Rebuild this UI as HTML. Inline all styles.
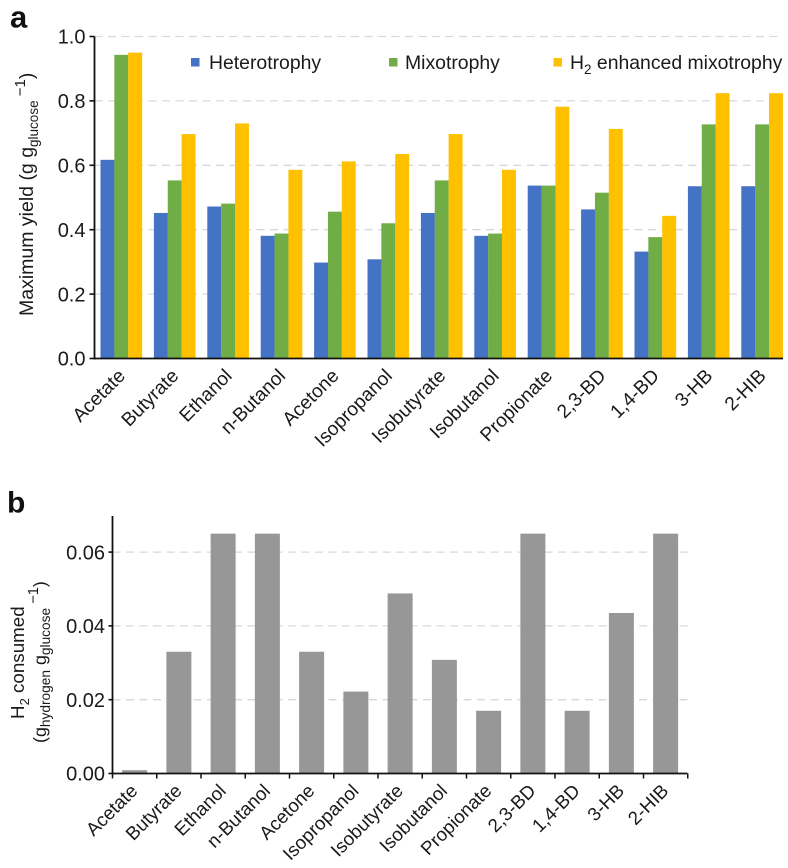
<!DOCTYPE html>
<html lang="en">
<head>
<meta charset="utf-8">
<title>Maximum yield and H2 consumed</title>
<style>
html,body{margin:0;padding:0;background:#fff;}
svg{display:block;font-family:"Liberation Sans",Arial,sans-serif;fill:#1a1a1a;}
</style>
</head>
<body>
<svg id="chart" width="788" height="868" viewBox="0 0 788 868" xmlns="http://www.w3.org/2000/svg">
  <text x="10" y="27.5" font-size="31" font-weight="bold" fill="#111">a</text>
  <text x="7" y="512.5" font-size="30" font-weight="bold" fill="#111">b</text>

  <text transform="translate(33,316) rotate(-90)" font-size="19.5">Maximum yield (g g<tspan font-size="13.5" dy="5">glucose</tspan><tspan font-size="15" dy="-13"> −1</tspan><tspan dy="8">)</tspan></text>

  <text transform="translate(24,719) rotate(-90)" font-size="18.8">H<tspan font-size="13" dy="5">2</tspan><tspan dy="-5"> consumed</tspan></text>
  <text transform="translate(46,743) rotate(-90)" font-size="17.9">(g<tspan font-size="13.7" dy="4">hydrogen</tspan><tspan dy="-4"> g</tspan><tspan font-size="13.7" dy="4">glucose</tspan><tspan font-size="14.7" dy="-12"> −1</tspan><tspan dy="8">)</tspan></text>

  <g>
    <rect x="191" y="58" width="8.5" height="8.5" fill="#4472c4"/>
    <text x="209" y="69" font-size="19.4">Heterotrophy</text>
    <rect x="389" y="58" width="8.5" height="8.5" fill="#70ad47"/>
    <text x="405" y="69" font-size="19.4">Mixotrophy</text>
    <rect x="553.5" y="58" width="8.5" height="8.5" fill="#ffc000"/>
    <text x="570" y="69" font-size="19.4">H<tspan font-size="13.5" dy="5">2</tspan><tspan dy="-5"> enhanced mixotrophy</tspan></text>
  </g>
</svg>
<script>
const categories = ["Acetate","Butyrate","Ethanol","n-Butanol","Acetone","Isopropanol","Isobutyrate","Isobutanol","Propionate","2,3-BD","1,4-BD","3-HB","2-HIB"];
const heterotrophy = [0.617,0.452,0.472,0.381,0.298,0.308,0.452,0.381,0.537,0.463,0.332,0.535,0.535];
const mixotrophy = [0.943,0.553,0.481,0.388,0.456,0.420,0.553,0.388,0.537,0.515,0.377,0.727,0.727];
const h2Enhanced = [0.950,0.697,0.730,0.586,0.612,0.635,0.697,0.586,0.782,0.713,0.443,0.824,0.824];
const h2Consumed = [0.0009,0.0330,0.0650,0.0650,0.0330,0.0222,0.0488,0.0308,0.0170,0.0650,0.0170,0.0435,0.0650];
const yieldTicks = [0,0.2,0.4,0.6,0.8,1.0];
const h2Ticks = [0,0.02,0.04,0.06];

const NS = "http://www.w3.org/2000/svg";
const svg = document.getElementById("chart");
function make(tag, attrs, parent) {
  const el = document.createElementNS(NS, tag);
  for (const k in attrs) el.setAttribute(k, attrs[k]);
  (parent || svg).appendChild(el);
  return el;
}

/* Panel a scales */
const aX0 = 94.5, aRight = 783, aBase = 358.5, aPxPerUnit = 322, aStart = 100.5, aPeriod = 53.4, aBarW = 13.85;
const aY = v => aBase - v * aPxPerUnit;
const aX = (i, s) => aStart + i * aPeriod + s * aBarW;

/* Panel b scales */
const bX0 = 112.5, bRight = 687.5, bBase = 773.5, bTop = 516, bPxPerUnit = 3690, bPeriod = 44.25, bBarW = 25;
const bY = v => bBase - v * bPxPerUnit;
const bX = i => bX0 + i * bPeriod + (bPeriod - bBarW) / 2;

/* Panel a grid and tick labels */
const aGroup = make("g", {});


svg.insertBefore(aGroup, svg.firstChild);

yieldTicks.forEach(t => {
  if (t > 0) {
    const g = make("line", {x1: aX0, x2: aRight, y1: aY(t), y2: aY(t), stroke: "#d8d8d8", "stroke-width": 1.3, "stroke-dasharray": "8 5.5"}, aGroup);
    
    
  }
  const m = make("line", {x1: aX0 - 5, x2: aX0, y1: aY(t), y2: aY(t), stroke: "#111", "stroke-width": 1.6}, aGroup);
  
  
  const l = make("text", {x: 85.5, y: aY(t) + 7.2, "font-size": 20, "text-anchor": "end"}, aGroup);
  
  
  l.textContent = t.toFixed(1);
});

/* Panel a bars */
const aSeries = [[heterotrophy, "#4472c4", "heterotrophy"], [mixotrophy, "#70ad47", "mixotrophy"], [h2Enhanced, "#ffc000", "h2-enhanced"]];
aSeries.forEach((entry, s) => {
  entry[0].forEach((v, i) => {
    const r = make("rect", {x: aX(i, s), y: aY(v), width: aBarW + 0.1, height: aBase - aY(v), fill: entry[1]}, aGroup);
    
    
  });
});

/* Panel a axes */
const aYAxis = make("line", {x1: aX0, x2: aX0, y1: aY(1), y2: aBase + 1, stroke: "#111", "stroke-width": 1.8}, aGroup);


const aXAxis = make("line", {x1: aX0, x2: aRight, y1: aBase, y2: aBase, stroke: "#111", "stroke-width": 1.8}, aGroup);



categories.forEach((c, i) => {
  const cx = aX(i, 1.5) + 5, cy = 377;
  const l = make("text", {transform: "translate(" + cx + "," + cy + ") rotate(-45)", "font-size": 19.2, "text-anchor": "end"}, aGroup);
  
  
  l.textContent = c;
});

/* Panel b grid and tick labels */
const bGroup = make("g", {});


svg.insertBefore(bGroup, svg.firstChild);

h2Ticks.forEach(t => {
  if (t > 0) {
    const g = make("line", {x1: bX0, x2: bRight, y1: bY(t), y2: bY(t), stroke: "#d8d8d8", "stroke-width": 1.3, "stroke-dasharray": "8 5.5"}, bGroup);
    
    
  }
  const m = make("line", {x1: bX0 - 4, x2: bX0, y1: bY(t), y2: bY(t), stroke: "#111", "stroke-width": 1.6}, bGroup);
  
  
  const l = make("text", {x: 105, y: bY(t) + 7.2, "font-size": 20, "text-anchor": "end"}, bGroup);
  
  
  l.textContent = t.toFixed(2);
});

/* Panel b bars */
h2Consumed.forEach((v, i) => {
  const r = make("rect", {x: bX(i), y: bY(v), width: bBarW, height: bBase - bY(v), fill: "#979797"}, bGroup);
  
  
});

/* Panel b axes */
const bYAxis = make("line", {x1: bX0, x2: bX0, y1: bTop, y2: bBase + 1, stroke: "#111", "stroke-width": 1.8}, bGroup);


const bXAxis = make("line", {x1: bX0, x2: bRight, y1: bBase, y2: bBase, stroke: "#111", "stroke-width": 1.8}, bGroup);



for (let i = 0; i <= categories.length; i++) {
  const x = bX0 + i * bPeriod;
  const m = make("line", {x1: x, x2: x, y1: bBase, y2: bBase + 5, stroke: "#111", "stroke-width": 1.5}, bGroup);
  
  
}

categories.forEach((c, i) => {
  const cx = bX(i) + bBarW / 2 + 4, cy = 792;
  const l = make("text", {transform: "translate(" + cx + "," + cy + ") rotate(-45)", "font-size": 18.8, "text-anchor": "end"}, bGroup);
  
  
  l.textContent = c;
});
</script>
</body>
</html>
